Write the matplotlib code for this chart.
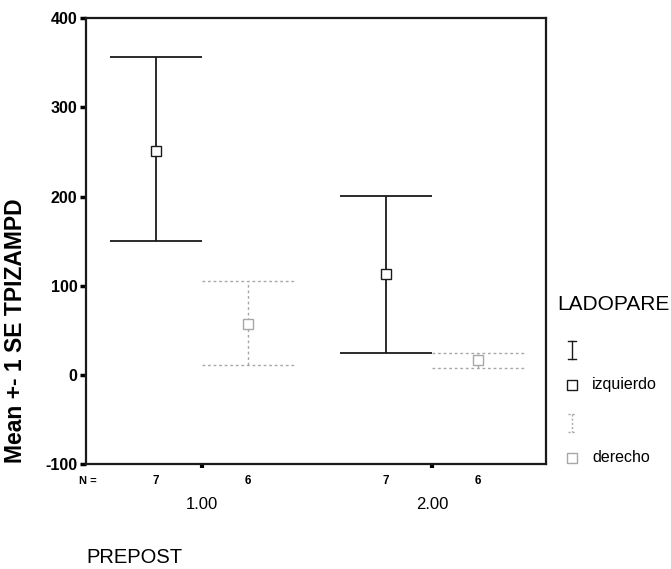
import matplotlib
matplotlib.use('Agg')
import matplotlib.pyplot as plt
from matplotlib.lines import Line2D
from matplotlib.transforms import blended_transform_factory

plt.rcParams['font.family'] = ['Liberation Sans', 'DejaVu Sans']

# ── Data ──────────────────────────────────────────────────────────────
groups       = [1, 2]
group_labels = ['1.00', '2.00']

izq_mean  = [251, 113]
izq_lower = [150, 25]
izq_upper = [357, 201]
izq_n     = [7, 7]

der_mean  = [57, 17]
der_lower = [11, 8]
der_upper = [105, 25]
der_n     = [6, 6]

y_ticks = [-100, 0, 100, 200, 300, 400]

# ── Figure ────────────────────────────────────────────────────────────
fig = plt.figure(figsize=(6.71, 5.69), dpi=100)
ax = fig.add_axes([0.128, 0.1845, 0.686, 0.7835])

offset = 0.2
cap = 0.2
black = '#1a1a1a'
gray = '#a8a8a8'

series = [
    (izq_mean, izq_lower, izq_upper, izq_n, -offset, black, '-', 1.3),
    (der_mean, der_lower, der_upper, der_n, offset, gray, (0, (2, 2)), 1.0),
]

trans = blended_transform_factory(ax.transData, ax.transAxes)
for mean, lo, hi, ns, off, col, ls, lw in series:
    xs = [g + off for g in groups]
    ax.vlines(xs, lo, hi, color=col, linestyle=ls, linewidth=lw)
    ax.hlines(lo, [x - cap for x in xs], [x + cap for x in xs],
              color=col, linestyle=ls, linewidth=lw)
    ax.hlines(hi, [x - cap for x in xs], [x + cap for x in xs],
              color=col, linestyle=ls, linewidth=lw)
    ax.plot(xs, mean, linestyle='none', marker='s', markersize=7,
            markerfacecolor='white', markeredgecolor=col,
            markeredgewidth=1.0)
    for x, n in zip(xs, ns):
        ax.text(x, -0.037, str(n), transform=trans, ha='center',
                va='center', fontsize=8.5, fontweight='bold')

ax.text(0.005, -0.037, 'N =', transform=ax.transAxes, ha='center',
        va='center', fontsize=8, fontweight='bold')

ax.set_xlim(0.496, 2.496)
ax.set_ylim(-100, 400)
ax.set_yticks(y_ticks)
ax.set_yticklabels([str(t) for t in y_ticks], fontsize=11.5, fontweight='bold')
ax.set_xticks(groups)
ax.set_xticklabels(group_labels, fontsize=12)
ax.tick_params(axis='y', direction='out', length=4, width=2.5, pad=2)
ax.tick_params(axis='x', direction='out', length=3, width=3, pad=21)
for s in ax.spines.values():
    s.set_linewidth(1.6)
    s.set_color(black)

ax.set_ylabel('Mean +- 1 SE TPIZAMPD', fontsize=16.5, fontweight='bold')
ax.yaxis.set_label_coords(-0.127, 0.30)

fig.text(0.201, 0.021, 'PREPOST', ha='center', va='center', fontsize=14.5)

# ── Legend (drawn manually) ───────────────────────────────────────────
fig.text(0.830, 1 - 305 / 569, 'LADOPARE', ha='left', va='center',
         fontsize=15)

W, H = 671, 569
def ibar(xp, yp, col, ls):
    h = 9
    for seg in [([xp, xp], [yp - h, yp + h]),
                ([xp - 4, xp + 4], [yp - h, yp - h]),
                ([xp - 4, xp + 4], [yp + h, yp + h])]:
        fig.add_artist(Line2D([v / W for v in seg[0]],
                              [1 - v / H for v in seg[1]],
                              color=col, linestyle=ls, linewidth=1.0))

ibar(572, 350, black, '-')
ibar(572, 423, gray, (0, (1.5, 1.5)))
fig.add_artist(Line2D([572 / W], [1 - 385 / H], marker='s', markersize=7,
                      markerfacecolor='white', markeredgecolor=black,
                      linestyle='none'))
fig.add_artist(Line2D([572 / W], [1 - 458 / H], marker='s', markersize=7,
                      markerfacecolor='white', markeredgecolor=gray,
                      linestyle='none'))
fig.text(592 / W, 1 - 385 / H, 'izquierdo', ha='left', va='center',
         fontsize=11.5)
fig.text(592 / W, 1 - 458 / H, 'derecho', ha='left', va='center',
         fontsize=11.5)

fig.savefig('out.png', dpi=100, facecolor='white')
